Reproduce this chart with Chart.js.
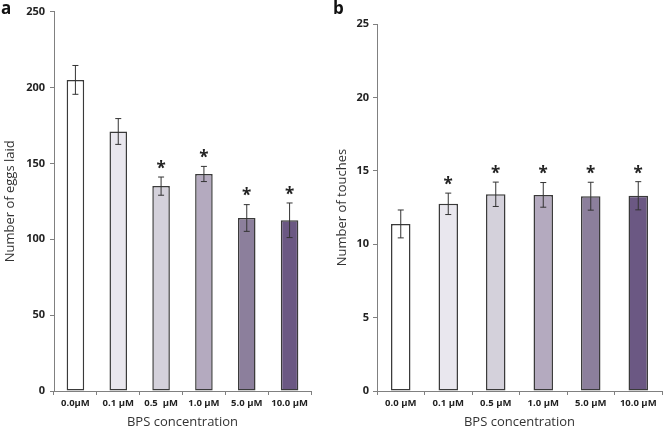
<!DOCTYPE html>
<html>
<head>
<meta charset="utf-8">
<script src="https://cdn.jsdelivr.net/npm/chart.js@4.4.1/dist/chart.umd.min.js"></script>
<style>
  body { margin: 0; background: #fff; }
  #wrap { position: relative; width: 664px; height: 433px; }
  .panel { position: absolute; top: 0; width: 332px; height: 433px; }
  .tag { position: absolute; font-family: "Open Sans", sans-serif; font-weight: bold; font-size: 17px; color: #111; }
</style>
</head>
<body>
<div id="wrap">
  <div class="panel" style="left:0"><canvas id="chartA" width="332" height="433"></canvas></div>
  <div class="panel" style="left:332px"><canvas id="chartB" width="332" height="433"></canvas></div>
  <div class="tag" style="left:1px; top:-4px">a</div>
  <div class="tag" style="left:333px; top:-4px">b</div>
</div>
<script>
const labelsA = ['0.0µM', '0.1 µM', '0.5  µM', '1.0 µM', '5.0 µM', '10.0 µM'];
const labelsB = ['0.0 µM', '0.1 µM', '0.5 µM', '1.0 µM', '5.0 µM', '10.0 µM'];
const eggs = [205, 171, 135, 143, 114, 112.5];
const eggsErr = [9.5, 8.5, 6, 5, 8.8, 11.4];
const eggsSig = [false, false, true, true, true, true];
const touches = [11.38, 12.75, 13.4, 13.36, 13.27, 13.3];
const touchesErr = [0.95, 0.73, 0.83, 0.84, 0.95, 0.96];
const touchesSig = [false, true, true, true, true, true];
const barColors = ['#ffffff', '#e9e7ee', '#d4d1db', '#b4aabf', '#8c7f9c', '#6b5883'];

const errorBars = {
    id: 'errorBars',
    afterDatasetsDraw(chart, args, opts) {
        const ctx = chart.ctx;
        const meta = chart.getDatasetMeta(0);
        const y = chart.scales.y;
        const vals = chart.data.datasets[0].data;
        ctx.save();
        ctx.strokeStyle = '#333';
        ctx.lineWidth = 1;
        meta.data.forEach((bar, i) => {
            const top = y.getPixelForValue(vals[i] + opts.err[i]);
            const bot = y.getPixelForValue(vals[i] - opts.err[i]);
            ctx.beginPath();
            ctx.moveTo(bar.x, top);
            ctx.lineTo(bar.x, bot);
            ctx.moveTo(bar.x - 3, top);
            ctx.lineTo(bar.x + 3, top);
            ctx.moveTo(bar.x - 3, bot);
            ctx.lineTo(bar.x + 3, bot);
            ctx.stroke();
            if (opts.sig[i]) {
                ctx.fillStyle = '#222';
                ctx.font = 'bold 17px "Open Sans"';
                ctx.textAlign = 'center';
                ctx.textBaseline = 'middle';
                ctx.fillText('*', bar.x, top - 8);
            }
        });
        ctx.restore();
    }
};

function makeChart(el, labels, data, err, sig, yTitle, yMax, yStep, axisW, pad, tickPad) {
    return new Chart(el, {
        type: 'bar',
        data: {
            labels: labels,
            datasets: [{
                data: data,
                backgroundColor: barColors,
                borderColor: '#3a3a3a',
                borderWidth: 1.5,
                borderSkipped: false,
                barPercentage: 0.41,
                categoryPercentage: 1
            }]
        },
        options: {
            responsive: false,
            animation: false,
            layout: { padding: pad },
            plugins: {
                legend: { display: false },
                tooltip: { enabled: false },
                errorBars: { err: err, sig: sig }
            },
            scales: {
                x: {
                    grid: { display: true, drawOnChartArea: false, offset: true, tickLength: 4, color: '#808080' },
                    border: { color: '#808080', width: 1 },
                    ticks: { font: { family: 'Open Sans', weight: 'bold', size: 9.5 }, color: '#222', padding: 3, maxRotation: 0 },
                    title: { display: true, text: 'BPS concentration', font: { family: 'Open Sans', size: 13 }, color: '#333', padding: { top: 2, bottom: 2.5 } },
                    afterFit: (s) => { s.height = 42; }
                },
                y: {
                    min: 0, max: yMax,
                    grid: { display: true, drawOnChartArea: false, tickLength: 4, color: '#808080' },
                    border: { color: '#808080', width: 1 },
                    ticks: { stepSize: yStep, font: { family: 'Open Sans', weight: 'bold', size: 11 }, color: '#222', padding: tickPad },
                    title: { display: true, text: yTitle, font: { family: 'Open Sans', size: 13 }, color: '#333', padding: { top: 2, bottom: 2 } },
                    afterFit: (s) => { s.width = axisW; }
                }
            }
        },
        plugins: [errorBars]
    });
}

makeChart(document.getElementById('chartA'), labelsA, eggs, eggsErr, eggsSig, 'Number of eggs laid', 250, 50, 54,
    { top: 11, right: 21, bottom: 0, left: 0 }, 5);
makeChart(document.getElementById('chartB'), labelsB, touches, touchesErr, touchesSig, 'Number of touches', 25, 5, 45,
    { top: 24, right: 2, bottom: 0, left: 0 }, 4);
</script>
</body>
</html>
